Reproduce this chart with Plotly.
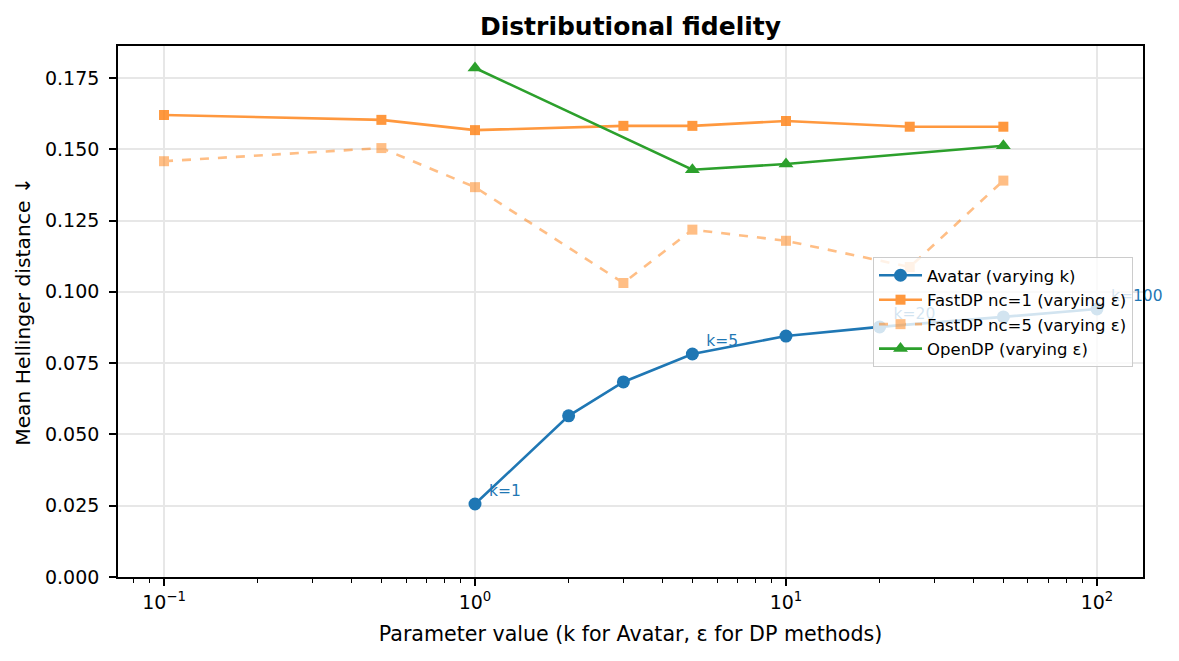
import plotly.graph_objects as go

# ---- data ----
avatar_k = [1, 2, 3, 5, 10, 20, 50, 100]
avatar_vals = [0.0256, 0.0565, 0.0684, 0.0782, 0.0845, 0.0877, 0.0912, 0.0940]
avatar_label_k = [1, 5, 20, 100]
avatar_label_vals = [0.0256, 0.0782, 0.0877, 0.0940]
avatar_labels = ["k=1", "k=5", "k=20", "k=100"]

fastdp1_eps = [0.1, 0.5, 1, 3, 5, 10, 25, 50]
fastdp1_vals = [0.1620, 0.1603, 0.1567, 0.1582, 0.1582, 0.1599, 0.1579, 0.1579]

fastdp5_eps = [0.1, 0.5, 1, 3, 5, 10, 25, 50]
fastdp5_vals = [0.1458, 0.1504, 0.1367, 0.1031, 0.1218, 0.1179, 0.1087, 0.1390]

opendp_eps = [1, 5, 10, 50]
opendp_vals = [0.1785, 0.1428, 0.1448, 0.1512]

xtick_vals = [0.1, 1, 10, 100]
xtick_text = ["10<sup>−1</sup>", "10<sup>0</sup>", "10<sup>1</sup>", "10<sup>2</sup>"]
ytick_vals = [0, 0.025, 0.05, 0.075, 0.1, 0.125, 0.15, 0.175]

BLUE = "#1f77b4"
ORANGE = "#ff7f0e"
GREEN = "#2ca02c"
FONT = "DejaVu Sans"
NBSP = "\u00a0"

W, H = 1171, 653  # page body has an 8px margin

fig = go.Figure()

fig.add_trace(go.Scatter(
    x=avatar_k, y=avatar_vals, mode="lines+markers", name="Avatar (varying k)",
    line=dict(color=BLUE, width=2.6), marker=dict(symbol="circle", size=13, color=BLUE)))

# point labels (drawn as a trace so the legend sits above them, as in the reference)
fig.add_trace(go.Scatter(
    x=avatar_label_k, y=avatar_label_vals, mode="markers+text",
    text=[NBSP * 2 + t for t in avatar_labels],
    textposition="top right", textfont=dict(color=BLUE, size=15.5, family=FONT),
    marker=dict(size=5, color="rgba(0,0,0,0)"),
    cliponaxis=False, showlegend=False, hoverinfo="skip"))

fig.add_trace(go.Scatter(
    x=fastdp1_eps, y=fastdp1_vals, mode="lines+markers", name="FastDP nc=1 (varying ε)",
    line=dict(color=ORANGE, width=2.6), marker=dict(symbol="square", size=10, color=ORANGE),
    opacity=0.8))

fig.add_trace(go.Scatter(
    x=fastdp5_eps, y=fastdp5_vals, mode="lines+markers", name="FastDP nc=5 (varying ε)",
    line=dict(color=ORANGE, width=2.6, dash="dash"),
    marker=dict(symbol="square", size=10, color=ORANGE), opacity=0.5))

fig.add_trace(go.Scatter(
    x=opendp_eps, y=opendp_vals, mode="lines+markers", name="OpenDP (varying ε)",
    line=dict(color=GREEN, width=2.6), marker=dict(symbol="triangle-up", size=13, color=GREEN)))

fig.update_layout(
    width=W, height=H,
    margin=dict(l=110, r=36, t=38, b=84),
    paper_bgcolor="white", plot_bgcolor="white",
    font=dict(family=FONT, size=19, color="black"),
    title=dict(text="<b>Distributional fidelity</b>", x=0.5, xref="paper", y=1 - 18 / H,
               yref="container", xanchor="center", yanchor="middle",
               font=dict(size=25, family=FONT, color="black")),
    legend=dict(x=0.7366, y=0.6026, xanchor="left", yanchor="top",
                bgcolor="rgba(255,255,255,0.8)", bordercolor="#cccccc", borderwidth=1,
                font=dict(size=16.5, family=FONT, color="black"), tracegroupgap=0, itemwidth=43),
    showlegend=True,
)

fig.update_xaxes(
    type="log", range=[-1.148, 2.148],
    tickvals=xtick_vals, ticktext=xtick_text,
    tickfont=dict(family=FONT, size=19, color="black"),
    ticks="outside", ticklen=7, tickwidth=1.6, tickcolor="black",
    minor=dict(ticks="outside", ticklen=4, tickwidth=1.2, tickcolor="black",
               dtick="D1", showgrid=False),
    showgrid=True, gridcolor="#e7e7e7", gridwidth=1.6,
    showline=True, linecolor="black", linewidth=1.6, mirror=True,
    zeroline=False,
    title=dict(text="Parameter value (k for Avatar, ε for DP methods)", standoff=15,
               font=dict(size=20.6, family=FONT, color="black")),
)

fig.update_yaxes(
    range=[0, 0.1862], tickvals=ytick_vals, tickformat=".3f",
    tickfont=dict(family=FONT, size=19, color="black"),
    ticks="outside", ticklen=7, tickwidth=1.6, tickcolor="black",
    ticklabelstandoff=6,
    showgrid=True, gridcolor="#e7e7e7", gridwidth=1.6,
    showline=True, linecolor="black", linewidth=1.6, mirror=True,
    zeroline=False,
    title=dict(text="Mean Hellinger distance ↓", standoff=9,
               font=dict(size=20.3, family=FONT, color="black")),
)

fig.write_html("out.html")
